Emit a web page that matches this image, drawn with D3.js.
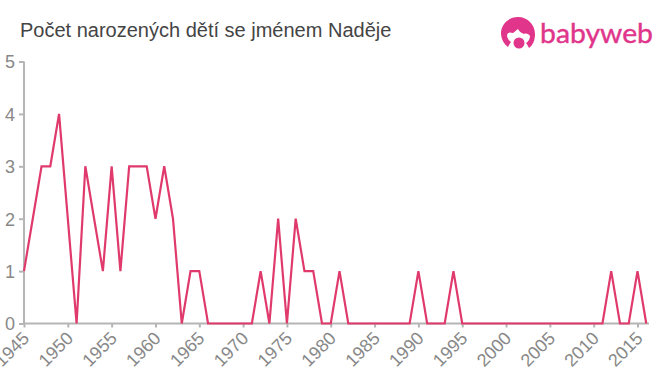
<!DOCTYPE html>
<html>
<head>
<meta charset="utf-8">
<script src="https://cdnjs.cloudflare.com/ajax/libs/d3/7.8.5/d3.min.js"></script>
<style>
  html, body { margin: 0; padding: 0; background: #fff; }
  svg { display: block; }
  text { font-family: "Liberation Sans", Arial, sans-serif; }
</style>
</head>
<body>
<svg id="chart" width="660" height="375"></svg>
<script>
const title = "Počet narozených dětí se jménem Naděje";
const years = d3.range(1945, 2017);
const counts = [
  1, 2, 3, 3, 4, 2, 0, 3, 2, 1,
  3, 1, 3, 3, 3, 2, 3, 2, 0, 1,
  1, 0, 0, 0, 0, 0, 0, 1, 0, 2,
  0, 2, 1, 1, 0, 0, 1, 0, 0, 0,
  0, 0, 0, 0, 0, 1, 0, 0, 0, 1,
  0, 0, 0, 0, 0, 0, 0, 0, 0, 0,
  0, 0, 0, 0, 0, 0, 0, 1, 0, 0,
  1, 0
];
const xTicks = d3.range(1945, 2016, 5);
const yTicks = [0, 1, 2, 3, 4, 5];

const svg = d3.select("#chart");

const x = d3.scaleLinear().domain([1945, 2015]).range([24, 637.5]);
const y = d3.scaleLinear().domain([0, 5]).range([323.5, 61.5]);

svg.append("text")
  .attr("x", 20)
  .attr("y", 37)
  .attr("font-size", 20)
  .attr("fill", "#444")
  .text(title);

// axes
const axisColor = "#b5b5b5";
const labelColor = "#888";

const yAxis = svg.append("g")
  .attr("transform", `translate(${x(1945)},0)`)
  .call(d3.axisLeft(y).tickValues(yTicks).tickFormat(d3.format("d")).tickSize(5).tickPadding(4));

const xAxis = svg.append("g")
  .attr("transform", `translate(0,${y(0)})`)
  .call(d3.axisBottom(x).tickValues(xTicks).tickFormat(d3.format("d")).tickSize(4).tickPadding(4));

xAxis.select(".domain").attr("d", `M${x(1945)},0H649`);
yAxis.select(".domain").attr("d", `M0,${y(5)}V${y(0)}`);

[xAxis, yAxis].forEach(a => {
  a.selectAll(".domain, .tick line").attr("stroke", axisColor).attr("stroke-width", 2);
  a.selectAll("text").attr("fill", labelColor).attr("font-size", 18)
    .style("font-family", '"Liberation Sans", Arial, sans-serif');
});
yAxis.selectAll(".tick line").attr("x1", 0).attr("x2", -5);
yAxis.selectAll("text").attr("x", -9).attr("dy", "0.35em");

// the first label runs off the left edge, same as the reference
xAxis.selectAll("text")
  .attr("text-anchor", "end")
  .attr("transform", "translate(-3,7) rotate(-45)")
  .attr("x", 0)
  .attr("y", 0)
  .attr("dy", "0.7em");

// line
const line = d3.line()
  .x((d, i) => x(years[i]))
  .y(d => y(d));

svg.append("path")
  .datum(counts)
  .attr("fill", "none")
  .attr("stroke", "#e03a6c")
  .attr("stroke-width", 2.2)
  .attr("stroke-linejoin", "miter")
  .attr("d", line);

// logo
const logo = svg.append("g").attr("fill", "#e0358a");
logo.append("path")
  .attr("d", "M518,17c-10,0,-17,8,-17,16c0,6,3,11,7,14c1,-2,2,-4,3,-5c-3,-2,-4,-5,-4,-7c1,-3,3,-3,6,-2c2,-1,3,-3,5,-4c1,2,3,4,6,5c2,-1,5,0,6,2c0,3,-2,6,-4,7c1,1,2,3,3,5c4,-3,6,-8,6,-14c0,-9,-7,-17,-17,-17z");
logo.append("circle").attr("cx", 519).attr("cy", 43).attr("r", 5.5);
logo.append("text")
  .attr("x", 540)
  .attr("y", 43)
  .attr("font-size", 27)
  .attr("textLength", 113)
  .attr("lengthAdjust", "spacingAndGlyphs")
  .attr("stroke", "#e0358a")
  .attr("stroke-width", 0.4)
  .style("font-family", "Lato, sans-serif")
  .text("babyweb");
</script>
</body>
</html>
